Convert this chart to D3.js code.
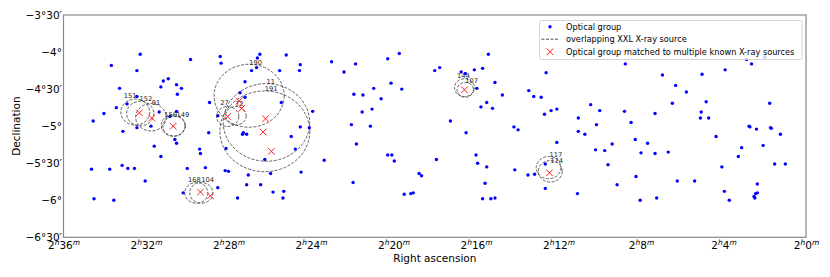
<!DOCTYPE html>
<html>
<head>
<meta charset="utf-8">
<script src="https://cdn.jsdelivr.net/npm/d3@7"></script>
<style>
  body { margin: 0; background: #fff; }
  text { font-family: "DejaVu Sans", sans-serif; }
</style>
</head>
<body>
<div id="chart"></div>
<script>
// optical groups (RA, Dec in degrees)
const groupRa = [38.07,38.42,38.11,37.46,37.10,37.09,37.73,37.79,37.63,37.57,37.82,38.32,37.62,38.11,38.23,38.36,38.51,38.64,37.84,37.63,37.71,37.94,38.11,38.28,37.65,37.63,37.90,37.35,37.34,37.23,37.13,37.24,37.82,38.66,38.44,38.29,38.22,38.14,37.50,37.28,38.01,37.55,38.63,38.39,
  36.80,36.86,36.80,36.65,36.62,36.66,36.72,36.30,36.13,36.14,36.38,36.36,35.98,36.82,36.83,36.78,36.13,36.02,36.24,37.03,36.56,36.19,37.04,37.00,36.76,36.49,36.12,37.13,36.78,36.61,36.46,36.89,36.33,36.34,
  35.75,35.46,35.60,35.07,34.93,34.50,34.44,33.85,34.02,33.92,34.18,34.13,33.77,33.99,33.68,35.03,34.90,35.24,35.48,35.37,35.15,35.26,35.38,35.51,35.28,34.31,34.12,33.87,33.94,33.80,33.54,33.49,33.36,33.30,33.21,33.15,33.17,35.45,35.84,35.49,35.07,35.02,34.99,34.48,34.69,34.66,34.87,34.79,34.76,34.00,33.98,33.87,33.89,33.92,33.82,33.77,33.53,33.37,33.29,33.16,33.16,
  32.19,31.74,31.26,30.98,30.66,30.72,30.50,31.58,31.45,33.09,33.02,32.61,32.50,32.20,31.62,31.21,31.27,31.28,31.18,31.83,30.44,32.76,32.54,32.12,32.76,32.68,30.69,30.68,30.60,30.43,30.42,30.31,31.09,32.07,33.02,32.55,32.44,32.35,31.92,32.00,31.83,31.67,32.40,32.77,32.29,32.06,32.01,31.81,31.56,31.35,31.02,30.78,30.82,30.52,30.38,30.25,30.99,30.93,30.59,30.59,30.61,30.63,30.62];
const groupDec = [-4.03,-4.18,-4.25,-4.10,-4.06,-4.15,-4.36,-4.39,-4.44,-4.49,-4.47,-4.49,-4.57,-4.60,-4.70,-4.75,-4.83,-4.93,-4.81,-4.80,-4.87,-5.00,-5.02,-5.07,-5.18,-5.23,-5.27,-5.31,-5.37,-4.68,-4.86,-5.09,-5.41,-5.58,-5.58,-5.53,-5.57,-5.57,-5.57,-5.56,-5.74,-5.90,-5.98,-6.00,
  -4.40,-4.55,-4.61,-4.08,-4.03,-4.21,-4.25,-4.04,-4.17,-4.25,-4.25,-4.68,-4.80,-5.09,-5.11,-5.11,-5.01,-5.02,-5.14,-5.30,-5.45,-5.31,-5.60,-5.61,-5.66,-5.64,-5.62,-5.83,-5.79,-5.79,-5.89,-5.97,-5.88,-5.97,
  -4.13,-4.16,-4.27,-4.09,-4.02,-4.25,-4.21,-4.03,-4.24,-4.22,-4.27,-4.29,-4.41,-4.49,-4.58,-4.42,-4.50,-4.49,-4.57,-4.58,-4.63,-4.77,-4.81,-4.98,-5.00,-4.93,-5.09,-4.68,-4.74,-4.76,-5.01,-5.05,-4.52,-4.60,-4.61,-4.28,-4.84,-5.24,-5.46,-5.76,-5.39,-5.39,-5.47,-5.45,-5.64,-5.67,-5.92,-5.91,-5.90,-5.39,-5.50,-5.55,-5.77,-5.98,-5.98,-5.97,-5.59,-5.66,-5.65,-5.51,-5.84,
  -4.16,-4.31,-4.30,-4.24,-4.16,-4.10,-4.07,-4.45,-4.54,-4.79,-4.77,-4.71,-4.79,-4.80,-4.69,-4.67,-4.81,-4.89,-4.89,-4.83,-4.69,-4.89,-4.98,-4.95,-5.07,-5.11,-5.00,-5.01,-5.04,-5.02,-5.03,-5.11,-5.14,-5.18,-5.22,-5.32,-5.33,-5.24,-5.23,-5.36,-5.37,-5.35,-5.52,-5.91,-5.79,-5.68,-6.00,-5.97,-5.74,-5.74,-5.55,-5.29,-5.41,-5.26,-5.51,-5.51,-5.88,-6.00,-5.78,-5.90,-5.91,-5.95,-5.97];

// optical groups matched to several known X-ray sources
const matchRa  = [38.08,37.93,37.67,37.01,36.87,36.84,36.55,36.58,36.48,37.34,37.22,34.14,33.11];
const matchDec = [-4.82,-4.89,-5.00,-4.87,-4.66,-4.76,-4.90,-5.08,-5.34,-5.89,-5.94,-4.51,-5.63];

// overlapping XXL X-ray sources: name, centre, radius (deg), label anchor
const xxlName = ['151','152','91','150','149','190','11','191','27','72','144','107','117','174','168','104'];
const xxlRa   = [38.13,38.07,37.94,37.67,37.66,36.75,36.54,36.56,37.01,36.91,34.14,34.13,33.12,33.10,37.39,37.33];
const xxlDec  = [-4.81,-4.83,-4.88,-4.99,-5.00,-4.59,-4.95,-5.07,-4.87,-4.86,-4.48,-4.51,-5.56,-5.61,-5.90,-5.90];
const xxlR    = [0.175,0.165,0.185,0.145,0.135,0.425,0.524,0.545,0.135,0.125,0.12,0.10,0.15,0.145,0.14,0.14];
const labelRa  = [38.27,38.08,37.93,37.78,37.63,36.75,36.54,36.56,37.10,36.92,34.23,34.13,33.11,33.10,37.49,37.33];
const labelDec = [-4.62,-4.66,-4.71,-4.87,-4.87,-4.17,-4.43,-4.53,-4.72,-4.73,-4.35,-4.42,-5.41,-5.50,-5.75,-5.76];

const raTicks = [39,38,37,36,35,34,33,32,31,30];
const raTickMin = ['36','32','28','24','20','16','12','8','4','0'];
const decTicks = [-3.5,-4,-4.5,-5,-5.5,-6,-6.5];
const decTickLabels = ['\u22123\u00b030\u2032','\u22124\u00b0','\u22124\u00b030\u2032','\u22125\u00b0','\u22125\u00b030\u2032','\u22126\u00b0','\u22126\u00b030\u2032'];

const width = 830, height = 277;
const plotL = 63.5, plotR = 806, plotT = 15, plotB = 237.3;

const x = d3.scaleLinear().domain([39, 30]).range([plotL, plotR]);
const y = d3.scaleLinear().domain([-3.5, -6.5]).range([plotT, plotB]);

const svg = d3.select('#chart').append('svg')
  .attr('width', width)
  .attr('height', height);

svg.append('rect').attr('width', width).attr('height', height).attr('fill', '#fff');

svg.append('defs').append('clipPath').attr('id', 'plotClip')
  .append('rect')
  .attr('x', plotL).attr('y', plotT)
  .attr('width', plotR - plotL).attr('height', plotB - plotT);

const plot = svg.append('g').attr('clip-path', 'url(#plotClip)');

// blue dots
plot.selectAll('circle.grp')
  .data(d3.range(groupRa.length))
  .join('circle')
  .attr('class', 'grp')
  .attr('cx', i => x(groupRa[i]))
  .attr('cy', i => y(groupDec[i]))
  .attr('r', 1.7)
  .attr('fill', '#0000ff');

// dashed circles (radius in degrees on both axes)
plot.selectAll('ellipse')
  .data(d3.range(xxlName.length))
  .join('ellipse')
  .attr('cx', i => x(xxlRa[i]))
  .attr('cy', i => y(xxlDec[i]))
  .attr('rx', i => Math.abs(x(xxlRa[i] + xxlR[i]) - x(xxlRa[i])))
  .attr('ry', i => Math.abs(y(xxlDec[i] + xxlR[i]) - y(xxlDec[i])))
  .attr('fill', 'none')
  .attr('stroke', '#3a3a3a')
  .attr('stroke-width', 0.8)
  .attr('stroke-dasharray', '3,1.5');

plot.selectAll('text.lbl')
  .data(d3.range(xxlName.length))
  .join('text')
  .attr('class', 'lbl')
  .attr('x', i => x(labelRa[i]))
  .attr('y', i => y(labelDec[i]))
  .attr('font-size', 6.7)
  .attr('fill', '#222')
  .text(i => xxlName[i]);

// red crosses
const cs = 3.3;
plot.selectAll('path.cross')
  .data(d3.range(matchRa.length))
  .join('path')
  .attr('class', 'cross')
  .attr('d', i => {
    const cx = x(matchRa[i]), cy = y(matchDec[i]);
    return `M${cx - cs},${cy - cs}L${cx + cs},${cy + cs}M${cx - cs},${cy + cs}L${cx + cs},${cy - cs}`;
  })
  .attr('stroke', '#ff2020')
  .attr('stroke-width', 1);

// axes
const xAxis = svg.append('g')
  .attr('transform', `translate(0,${plotB})`)
  .call(d3.axisBottom(x).tickValues(raTicks).tickSize(0).tickPadding(0));
xAxis.select('.domain').remove();
xAxis.selectAll('text')
  .attr('font-size', 10.5)
  .attr('fill', '#000')
  .attr('dy', null)
  .attr('y', 12)
  .each(function(d, i) {
    const t = d3.select(this).text(null);
    t.append('tspan').text('2');
    t.append('tspan').attr('font-size', 7.5).attr('font-style', 'italic').attr('dy', -4).text('h');
    t.append('tspan').attr('dy', 4).text(raTickMin[i]);
    t.append('tspan').attr('font-size', 7.5).attr('font-style', 'italic').attr('dy', -4).text('m');
  });

const yAxis = svg.append('g')
  .attr('transform', `translate(${plotL},0)`)
  .call(d3.axisLeft(y).tickValues(decTicks).tickSize(0).tickPadding(1.5)
    .tickFormat((d, i) => decTickLabels[i]));
yAxis.select('.domain').remove();
yAxis.selectAll('text').attr('font-size', 10.5).attr('fill', '#000');

// frame
svg.append('rect')
  .attr('x', plotL).attr('y', plotT)
  .attr('width', plotR - plotL).attr('height', plotB - plotT)
  .attr('fill', 'none')
  .attr('stroke', '#888')
  .attr('stroke-width', 1.2);

svg.append('text')
  .attr('x', (plotL + plotR) / 2)
  .attr('y', 262)
  .attr('text-anchor', 'middle')
  .attr('font-size', 10.5)
  .text('Right ascension');

svg.append('text')
  .attr('transform', `translate(20,${(plotT + plotB) / 2}) rotate(-90)`)
  .attr('text-anchor', 'middle')
  .attr('font-size', 10.5)
  .text('Declination');

// legend
const lg = svg.append('g');
lg.append('rect')
  .attr('x', 539.5).attr('y', 20.5)
  .attr('width', 262.5).attr('height', 39)
  .attr('rx', 2)
  .attr('fill', '#fff').attr('fill-opacity', 0.8)
  .attr('stroke', '#cccccc').attr('stroke-width', 0.8);

const legendRows = ['Optical group', 'overlapping XXL X-ray source', 'Optical group matched to multiple known X-ray sources'];
const rowY = [26.7, 39.2, 51.7];
lg.append('circle').attr('cx', 550).attr('cy', rowY[0]).attr('r', 1.7).attr('fill', '#0000ff');
lg.append('line').attr('x1', 541.5).attr('x2', 559).attr('y1', rowY[1]).attr('y2', rowY[1])
  .attr('stroke', '#222').attr('stroke-width', 0.8).attr('stroke-dasharray', '3,1.5');
lg.append('path')
  .attr('d', `M${550 - cs},${rowY[2] - cs}L${550 + cs},${rowY[2] + cs}M${550 - cs},${rowY[2] + cs}L${550 + cs},${rowY[2] - cs}`)
  .attr('stroke', '#ff2020').attr('stroke-width', 1);
lg.selectAll('text')
  .data(legendRows)
  .join('text')
  .attr('x', 566)
  .attr('y', (d, i) => rowY[i])
  .attr('dy', '0.35em')
  .attr('font-size', 8.2)
  .text(d => d);
</script>
</body>
</html>
